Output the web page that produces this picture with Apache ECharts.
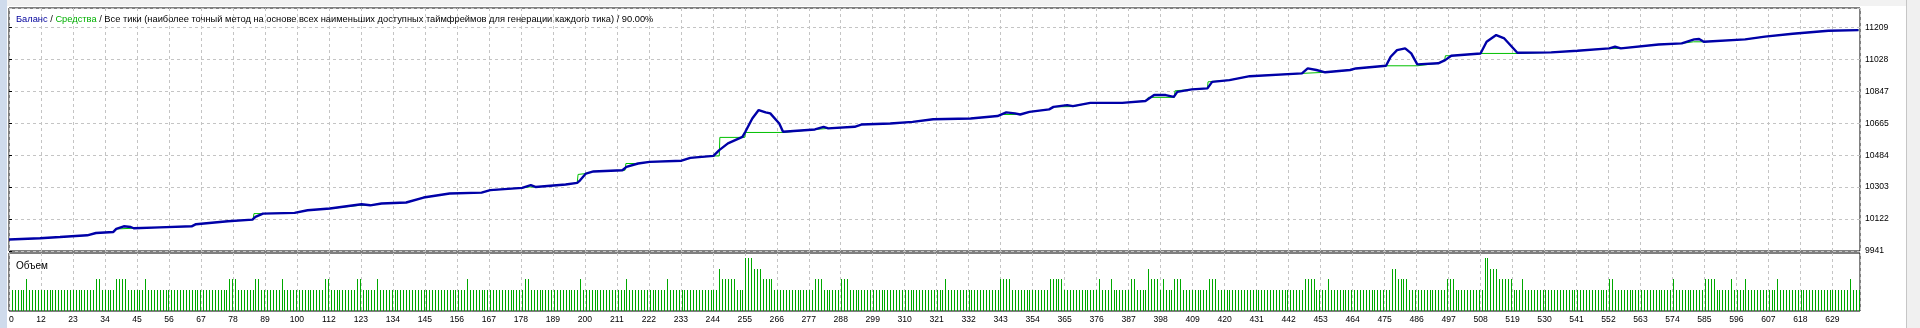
<!DOCTYPE html>
<html><head><meta charset="utf-8">
<script src="https://cdn.jsdelivr.net/npm/echarts@6/dist/echarts.min.js"></script>
<style>
html,body{margin:0;padding:0;background:#fff;width:1920px;height:328px;overflow:hidden}
#c{position:absolute;left:0;top:0;width:1920px;height:328px}
.ls{position:absolute;left:0;top:0;width:7px;height:328px;background:#cfdbec}
.ts{position:absolute;left:0;top:0;width:1906px;height:6px;background:#f2f2f2}
.rs{position:absolute;left:1906px;top:0;width:14px;height:328px;background:#f0f0f0;border-left:1px solid #c6c6c6}
</style>
</head><body>
<div class="ts"></div><div class="ls"></div><div class="rs"></div>
<div id="c"></div>
<script>
// ---- data ----
const xLabels = ['0','12','23','34','45','56','67','78','89','100','112','123','134','145','156','167','178','189','200','211','222','233','244','255','266','277','288','299','310','321','332','343','354','365','376','387','398','409','420','431','442','453','464','475','486','497','508','519','530','541','552','563','574','585','596','607','618','629'];
const yLabels = ['9941','10122','10303','10484','10665','10847','11028','11209'];

// Баланс (blue) : [trade #, value]
const balance = [[0,10006],[10.7,10013],[17.6,10020],[27,10030],[30,10043],[36,10049],[37,10066],[39.6,10081],[42,10077],[43,10070],[52,10075],[63,10081],[64.5,10093],[75.5,10110],[84,10119],[85,10134],[87.6,10153],[98.5,10157],[103,10172],[110.7,10182],[121.6,10206],[124.6,10200],[128.5,10210],[137,10216],[143,10244],[152,10267],[163,10272],[166,10286],[177,10299],[180,10314],[181.6,10304],[192,10318],[196,10327],[197,10342],[199,10380],[201.6,10392],[211.6,10399],[213,10418],[217,10437],[221,10446],[232,10453],[235,10469],[243,10480],[245,10513],[248,10551],[253,10588],[254,10617],[256.4,10692],[258.6,10740],[261,10727],[262.6,10721],[265.7,10664],[267,10617],[278,10630],[281,10645],[282.6,10636],[291.7,10645],[294,10658],[304,10664],[311.7,10673],[318.8,10688],[331.7,10692],[341,10706],[344,10727],[347,10721],[348.8,10715],[352,10730],[358.8,10744],[360.3,10758],[365,10768],[367,10762],[373,10781],[384,10781],[392,10791],[395,10825],[399,10825],[401.8,10815],[403,10843],[408,10857],[413.4,10863],[415,10900],[421,10910],[428,10932],[446,10948],[448,10976],[451,10967],[454,10954],[462.6,10967],[464.6,10976],[475,10991],[476.6,11042],[478.8,11080],[481.6,11090],[483.7,11061],[485.8,10999],[493,11005],[495.4,11023],[497.5,11048],[507.6,11061],[509.7,11127],[513,11165],[515.8,11146],[520.3,11065],[532,11067],[541,11076],[552,11090],[554,11099],[556,11090],[569,11112],[577,11118],[581.3,11141],[583,11143],[584.6,11127],[598.9,11141],[605.7,11156],[615.3,11173],[627.6,11190],[638,11193]];

// Средства (green) : [trade #, value]
const equity = [[0,10006],[10.7,10013],[17.6,10020],[27,10030],[30,10043],[36,10049],[37,10066],[37.3,10070],[43,10070],[52,10075],[63,10081],[64.5,10093],[75.5,10110],[84.2,10119],[84.5,10153],[87.6,10153],[98.5,10157],[103,10172],[110.7,10182],[121,10200],[124.6,10200],[128.5,10210],[137,10216],[143,10244],[152,10267],[163,10272],[166,10286],[177,10299],[179.5,10304],[181.6,10304],[192,10318],[196,10327],[196.3,10375],[199,10380],[201.6,10392],[211.6,10399],[212.5,10399],[212.8,10437],[217,10437],[221,10446],[232,10453],[235,10469],[243,10480],[245,10480],[245.2,10585],[253.8,10585],[254,10613],[267,10613],[278,10630],[282.6,10636],[291.7,10645],[294,10658],[304,10664],[311.7,10673],[318.8,10688],[331.7,10692],[341,10706],[342,10715],[348.8,10715],[352,10730],[358.8,10744],[360.3,10758],[367,10760],[373,10781],[384,10781],[392,10791],[393,10812],[402,10812],[402.2,10849],[408,10857],[413.4,10863],[413.6,10900],[421,10910],[428,10932],[446,10948],[454,10954],[462.6,10967],[464.6,10976],[475,10991],[485.8,10991],[486,10999],[493,11005],[495.2,11023],[495.5,11048],[497.5,11048],[507.6,11061],[520.3,11061],[532,11067],[541,11076],[552,11090],[556,11090],[569,11112],[577,11118],[581,11127],[584.6,11127],[598.9,11141],[605.7,11156],[615.3,11173],[627.6,11190],[638,11193]];

// Объем per trade, trades 1..638 (one digit per trade)
const volumeRows = [
 '2222232222'+'2222222222'+'2222222223'+'3222223333'+'2222223222',
 '2222222222'+'2222222222'+'2222233322'+'2222332222'+'2223222222',
 '2222222233'+'2222222223'+'3222223222'+'2222222222'+'2222222222',
 '2222222322'+'2222222222'+'2222222332'+'2222222222'+'2222223222',
 '2222222222'+'2232222222'+'2222223222'+'2222222222'+'2222433333',
 '2225554443'+'3332222222'+'2222222333'+'2222223332'+'2222222222',
 '2222222222'+'2222222222'+'2232222222'+'2222222222'+'2333322222',
 '2222222233'+'3332222222'+'2222232223'+'2222223322'+'2243332322',
 '2333222222'+'2223332222'+'2222222222'+'2222222222'+'2222223333',
 '2222322222'+'2222222222'+'2222224433'+'3322222222'+'2222233322',
 '2222222255'+'4443333322'+'2322222222'+'2222222222'+'2222222222',
 '2332222222'+'2222222222'+'2223222222'+'2222333322'+'2223222232',
 '2222222223'+'2222222222'+'2222222222'+'22223222'
];

// ---- chart ----
const volStr = volumeRows.join('');
const volume = [];
for (let i = 0; i < volStr.length; i++) volume.push([i + 1, +volStr[i]]);

const XI = 11.035, XMAX = 638.5;
const YMIN = 9941, YSTEP = 1268 / 7, YMAX = 11318.6;
const FONT = 'Liberation Sans';
const dash = { color: '#c4c4c4', width: 1, type: [3, 3] };
function xFmt(v) {
  const i = Math.round(v / XI);
  return (Math.abs(v - i * XI) < 0.01 && i < xLabels.length) ? xLabels[i] : '';
}
function yFmt(v) {
  const i = Math.round((v - YMIN) / YSTEP);
  return (Math.abs(v - (YMIN + i * YSTEP)) < 0.01 && i < yLabels.length) ? yLabels[i] : '';
}

const chart = echarts.init(document.getElementById('c'), null, { renderer: 'canvas' });
chart.setOption({
  animation: false,
  backgroundColor: 'transparent',
  title: [
    { left: 11, top: 10, text: '{b|Баланс} / {g|Средства} / Все тики (наиболее точный метод на основе всех наименьших доступных таймфреймов для генерации каждого тика) / 90.00%',
      textStyle: { fontFamily: FONT, fontSize: 9.3, fontWeight: 'normal', color: '#000',
        rich: { b: { color: '#00009c', fontFamily: FONT, fontSize: 9.3 }, g: { color: '#00b000', fontFamily: FONT, fontSize: 9.3 } } } },
    { left: 11, top: 256, text: 'Объем', textStyle: { fontFamily: FONT, fontSize: 10, fontWeight: 'normal', color: '#000' } }
  ],
  grid: [
    { left: 9, top: 8, width: 1851, height: 243, show: true, borderColor: '#000', borderWidth: 1, backgroundColor: '#fff' },
    { left: 9, top: 253, width: 1851, height: 58, show: true, borderColor: '#000', borderWidth: 1, backgroundColor: '#fff' }
  ],
  xAxis: [
    { type: 'value', gridIndex: 0, min: 0, max: XMAX, interval: XI,
      axisLine: { show: false }, axisTick: { show: false }, axisLabel: { show: false },
      splitLine: { show: true, lineStyle: dash } },
    { type: 'value', gridIndex: 1, min: 0, max: XMAX, interval: XI,
      axisLine: { show: false }, axisTick: { show: false },
      axisLabel: { show: true, formatter: xFmt, fontFamily: FONT, fontSize: 8.6, color: '#000', margin: 4, showMaxLabel: false, alignMinLabel: 'left' },
      splitLine: { show: true, lineStyle: dash } }
  ],
  yAxis: [
    { type: 'value', gridIndex: 0, position: 'right', min: YMIN, max: YMAX, interval: YSTEP,
      axisLine: { show: false }, axisTick: { show: true, length: 3, lineStyle: { color: '#000' } },
      axisLabel: { formatter: yFmt, fontFamily: FONT, fontSize: 8.6, color: '#000', margin: 5, showMaxLabel: false },
      splitLine: { show: true, lineStyle: dash } },
    { type: 'value', gridIndex: 1, min: 0, max: 5.5, show: false, splitLine: { show: false } }
  ],
  series: [
    { type: 'custom', xAxisIndex: 1, yAxisIndex: 1, data: volume, z: 2,
      encode: { x: 0, y: 1 },
      renderItem: function (params, api) {
        const top = api.coord([api.value(0), api.value(1)]);
        const base = api.coord([api.value(0), 0]);
        const x = Math.round(top[0]);
        return { type: 'rect', shape: { x: x, y: Math.round(top[1]), width: 1, height: Math.round(base[1]) - Math.round(top[1]) },
                 style: { fill: '#00a800' } };
      } },
    { type: 'line', xAxisIndex: 0, yAxisIndex: 0, data: equity, showSymbol: false, z: 3,
      lineStyle: { color: '#00c000', width: 1 } },
    { type: 'line', xAxisIndex: 0, yAxisIndex: 0, data: balance, showSymbol: false, z: 4,
      lineStyle: { color: '#0000a8', width: 2.4 } }
  ]
});
</script>
</body></html>
